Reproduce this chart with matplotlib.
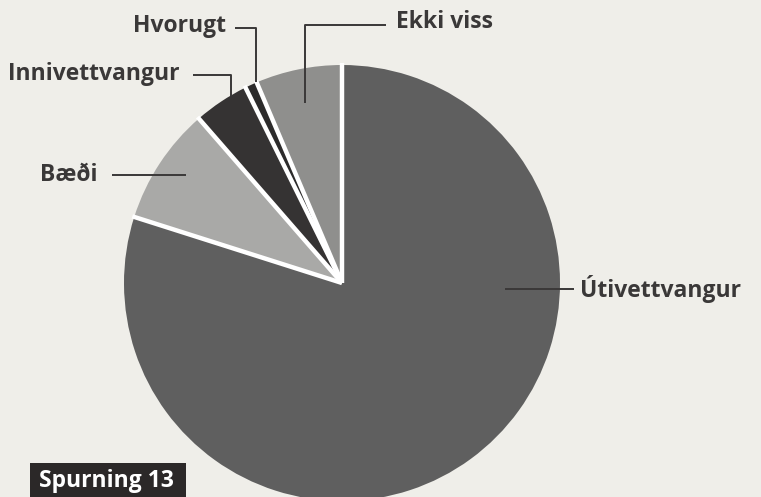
import matplotlib
matplotlib.use("Agg")
import matplotlib.pyplot as plt
import numpy as np
from matplotlib.patches import Rectangle

# ---- data ----
categories = ["Útivettvangur", "Bæði", "Innivettvangur", "Hvorugt", "Ekki viss"]
values = [79.9, 8.7, 4.1, 0.9, 6.4]
colors = ["#5f5f5f", "#a9a9a7", "#353333", "#2c2b2b", "#8f8f8d"]
title_text = "Spurning 13"

W, H = 761, 497
BG = "#efeee9"
fig = plt.figure(figsize=(W / 100, H / 100), dpi=100, facecolor=BG)
ax = fig.add_axes([0, 0, 1, 1])
ax.set_facecolor(BG)

def py(y):
    return H - y

cx, cy, R = 342, py(283), 218
wedges, _ = ax.pie(values, colors=colors, startangle=90, counterclock=False,
                   center=(cx, cy), radius=R,
                   wedgeprops=dict(edgecolor="none", linewidth=0))
for w in wedges:
    w.set_clip_on(True)

# white radial separators at slice boundaries (from the data)
total = float(sum(values))
cum = np.concatenate([[0], np.cumsum(values)])
for c in cum[:-1]:
    ang = np.deg2rad(90 - 360 * c / total)
    ax.plot([cx, cx + (R + 2) * np.cos(ang)], [cy, cy + (R + 2) * np.sin(ang)],
            color="white", lw=3.2, solid_capstyle="butt", zorder=3)

ax.set_xlim(0, W)
ax.set_ylim(0, H)
ax.set_aspect("equal")
ax.axis("off")

font = dict(family=["Open Sans", "DejaVu Sans"], fontweight="bold",
            color="#3a3838", fontsize=16.5)
lc = "#3a3838"
lw = 1.4

# label layout: (text x, text y, ha, leader polyline in pixel coords)
layout = {
    "Útivettvangur": (580, 289, "left", [(505, 289), (574, 289)]),
    "Bæði": (97, 175, "right", [(112, 175), (186, 175)]),
    "Innivettvangur": (179, 74, "right", [(193, 75), (231, 75), (231, 96)]),
    "Hvorugt": (226, 26, "right", [(235, 28), (256, 28), (256, 82)]),
    "Ekki viss": (396, 22, "left", [(386, 25), (305, 25), (305, 103)]),
}
for name in categories:
    tx, ty, ha, pts = layout[name]
    ax.text(tx, py(ty), name, ha=ha, va="center", zorder=6, **font)
    ax.plot([p[0] for p in pts], [py(p[1]) for p in pts], color=lc, lw=lw,
            solid_capstyle="butt", zorder=5)

ax.add_patch(Rectangle((30, py(497)), 156, 34, facecolor="#2b2828",
                       edgecolor="none", zorder=5))
ax.text(39, py(481), title_text, ha="left", va="center", color="white",
        family=["Open Sans", "DejaVu Sans"], fontweight="bold", fontsize=16.5,
        zorder=6)

fig.savefig("out.png", dpi=100, facecolor=BG)
